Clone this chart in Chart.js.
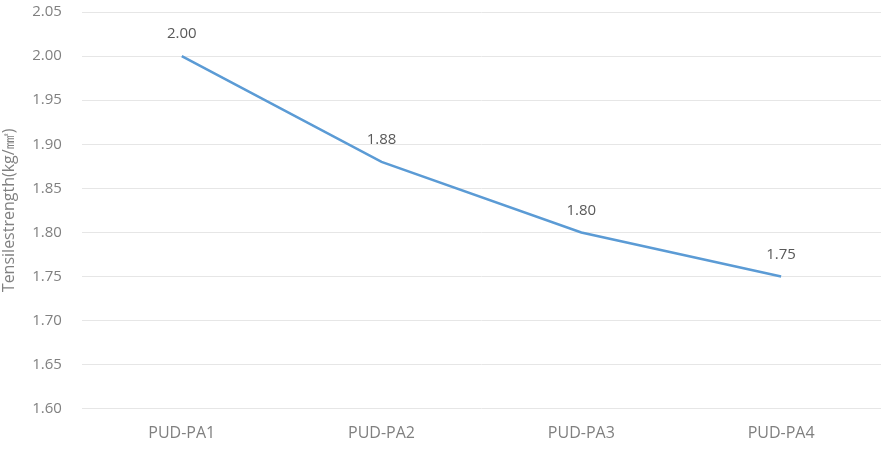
<!DOCTYPE html>
<html>
<head>
<meta charset="utf-8">
<script src="https://cdn.jsdelivr.net/npm/chart.js@4"></script>
<style>
  html, body { margin: 0; padding: 0; background: #ffffff; overflow: hidden; }
  canvas { display: block; }
</style>
</head>
<body>
<canvas id="tensileChart" width="886" height="462"></canvas>
<script>
// Tensile strength per sample
const samples = ['PUD-PA1', 'PUD-PA2', 'PUD-PA3', 'PUD-PA4'];
const tensile = [2.00, 1.88, 1.80, 1.75];

const yMin = 1.60;
const yMax = 2.05;
const yStep = 0.05;

const fontFamily = '"Open Sans", sans-serif';

// small plugin: print each value above its point
const valueLabels = {
  id: 'valueLabels',
  afterDatasetsDraw(chart) {
    const ctx = chart.ctx;
    const meta = chart.getDatasetMeta(0);
    ctx.save();
    ctx.font = '15px ' + fontFamily;
    ctx.fillStyle = '#595959';
    ctx.textAlign = 'center';
    ctx.textBaseline = 'middle';
    meta.data.forEach((pt, i) => {
      ctx.fillText(tensile[i].toFixed(2), pt.x, pt.y - 22);
    });
    ctx.restore();
  }
};

const ctx = document.getElementById('tensileChart').getContext('2d');

new Chart(ctx, {
  type: 'line',
  data: {
    labels: samples,
    datasets: [{
      data: tensile,
      borderColor: '#5b9bd5',
      borderWidth: 2.5,
      pointRadius: 0,
      tension: 0
    }]
  },
  options: {
    responsive: false,
    animation: false,
    layout: { padding: { top: 0, right: 5, bottom: 4, left: 0 } },
    plugins: {
      legend: { display: false },
      tooltip: { enabled: false }
    },
    scales: {
      x: {
        offset: true,
        grid: { display: false, drawTicks: false },
        border: { display: false },
        ticks: { color: '#808080', font: { size: 16, family: fontFamily }, padding: 15 }
      },
      y: {
        min: yMin,
        max: yMax,
        // invisible tick marks make the gap between labels and gridlines
        grid: { color: '#e6e6e6', drawTicks: true, tickLength: 17, tickColor: 'rgba(0,0,0,0)' },
        border: { display: false },
        ticks: {
          stepSize: yStep,
          color: '#808080',
          padding: 3,
          font: { size: 15, family: fontFamily },
          callback: v => v.toFixed(2)
        },
        title: {
          display: true,
          text: 'Tensilestrength(kg/㎟)',
          color: '#808080',
          padding: { top: 0, bottom: 10 },
          font: { size: 16, family: fontFamily }
        }
      }
    }
  },
  plugins: [valueLabels]
});
</script>
</body>
</html>
